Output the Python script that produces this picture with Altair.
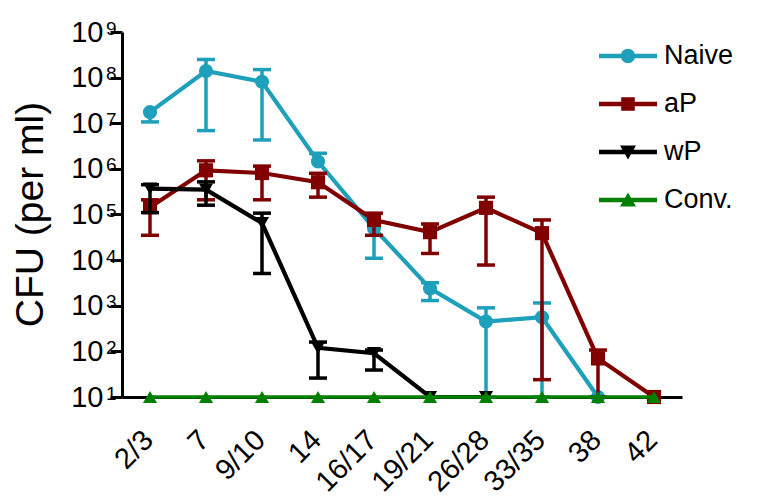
import altair as alt
import pandas as pd

categories = ["2/3", "7", "9/10", "14", "16/17", "19/21", "26/28", "33/35", "38", "42"]

series_names = ["Naive", "aP", "wP", "Conv."]
colors = ["#1E9FBA", "#800000", "#000000", "#008000"]
shapes = ["circle", "square", "triangle-down", "triangle-up"]

naive = [1.75e7, 1.4e8, 8.1e7, 1.45e6, 5.0e4, 2.4e3, 450, 560, 10, None]
naive_hi = [None, 2.5e8, 1.5e8, 2.2e6, None, 3.2e3, 900, 1150, None, None]
naive_lo = [1.07e7, 6.9e6, 4.3e6, None, 1.1e4, 1.3e3, 10, 10, None, None]

ap = [1.45e5, 9.3e5, 8.1e5, 5.1e5, 7.6e4, 4.1e4, 1.4e5, 3.9e4, 70, 10]
ap_hi = [2.1e5, 1.5e6, 1.15e6, 8.0e5, 1.07e5, 6.2e4, 2.4e5, 7.6e4, 107, None]
ap_lo = [3.5e4, 2.1e5, 2.1e5, 2.4e5, 3.5e4, 1.4e4, 7.8e3, 24, 10, None]

wp = [3.7e5, 3.5e5, 6.5e4, 120, 91, 10, 10, None, None, None]
wp_hi = [4.5e5, 5.2e5, 1.07e5, 160, 107, None, None, None, None, None]
wp_lo = [1.1e5, 1.6e5, 5.1e3, 26, 39, None, None, None, None, None]

conv = [10, 10, 10, 10, 10, 10, 10, 10, 10, 10]
conv_hi = [None] * 10
conv_lo = [None] * 10

y_ticks = [10, 100, 1e3, 1e4, 1e5, 1e6, 1e7, 1e8, 1e9]

FONT = "Liberation Sans"

BAR = "M-1.45,-0.11H1.45V0.11H-1.45Z"
legend_paths = [
    BAR + "M-0.36,0A0.36,0.36,0,1,1,0.36,0A0.36,0.36,0,1,1,-0.36,0Z",
    BAR + "M-0.34,-0.34H0.34V0.34H-0.34Z",
    BAR + "M-0.4,-0.33H0.4L0,0.37Z",
    BAR + "M0.4,0.33H-0.4L0,-0.37Z",
]


def series_frame(name, vals, his, los):
    rows = []
    caps = []
    for c, v, h, l in zip(categories, vals, his, los):
        if v is None:
            continue
        rows.append({"series": name, "cat": c, "value": v,
                     "hi": v if h is None else h, "lo": v if l is None else l})
        if h is not None:
            caps.append({"series": name, "cat": c, "cap": h})
        if l is not None:
            caps.append({"series": name, "cat": c, "cap": l})
    return pd.DataFrame(rows), pd.DataFrame(caps)


x_scale = alt.Scale(type="point", domain=categories, padding=0.5)
y_scale = alt.Scale(type="log", domain=[10, 1e9])

x_axis = alt.Axis(
    title=None, labelAngle=315, labelAlign="right", labelBaseline="middle",
    labelFont=FONT, labelFontSize=29, labelColor="black", labelPadding=33,
    labelOffset=-2, tickSize=5, tickWidth=3, tickColor="black",
    domainWidth=3, domainColor="black", grid=False,
)
y_axis = alt.Axis(
    values=y_ticks, grid=False, orient="left",
    labelExpr="'10'",
    labelFont=FONT, labelFontSize=29, labelColor="black", labelPadding=7,
    labelAlign="right", labelBaseline="middle",
    tickSize=12, tickWidth=3, tickColor="black", domainWidth=3, domainColor="black",
    title="CFU (per ml)", titleFont=FONT, titleFontSize=39, titleFontWeight="normal",
    titleColor="black", titleAngle=270, titleX=-92, titleY=182,
    titleAlign="center", titleBaseline="middle",
)
exp_axis = alt.Axis(
    values=y_ticks, grid=False, orient="left", domain=False,
    labelExpr="'' + round(log(datum.value)/LN10)",
    labelFont=FONT, labelFontSize=19, labelColor="black", labelPadding=6,
    labelAlign="right", labelBaseline="middle", labelOffset=-4,
    ticks=True, tickSize=0, tickOpacity=0, title=None,
)

X = alt.X("cat:N", scale=x_scale, axis=x_axis, sort=categories)

layers = []
all_series = [
    ("Naive", naive, naive_hi, naive_lo),
    ("aP", ap, ap_hi, ap_lo),
    ("wP", wp, wp_hi, wp_lo),
    ("Conv.", conv, conv_hi, conv_lo),
]
for i, (name, vals, his, los) in enumerate(all_series):
    df, caps = series_frame(name, vals, his, los)
    col = colors[i]
    if len(caps):
        layers.append(
            alt.Chart(df).mark_rule(color=col, strokeWidth=3.5).encode(
                x=X,
                y=alt.Y("lo:Q", scale=y_scale, axis=y_axis),
                y2="hi:Q",
            )
        )
        layers.append(
            alt.Chart(caps).mark_tick(color=col, thickness=3.5, size=18, opacity=1).encode(
                x=X,
                y=alt.Y("cap:Q", scale=y_scale, axis=y_axis),
            )
        )
    layers.append(
        alt.Chart(df).mark_line(color=col, strokeWidth=4.2 if name != "Conv." else 3.5).encode(
            x=X, y=alt.Y("value:Q", scale=y_scale, axis=y_axis)
        )
    )
    layers.append(
        alt.Chart(df).mark_point(filled=True, shape=shapes[i], size=200, color=col, opacity=1).encode(
            x=X, y=alt.Y("value:Q", scale=y_scale, axis=y_axis)
        )
    )

legend = alt.Legend(
    title=None, orient="none", legendX=486, legendY=4, padding=0,
    symbolSize=1600, symbolStrokeWidth=0, rowPadding=15, labelOffset=16,
    labelFont=FONT, labelFontSize=27, labelColor="black", labelLimit=300,
    symbolOpacity=1,
)
legend_df = pd.DataFrame({"series": series_names})
legend_layer = alt.Chart(legend_df).mark_point(filled=True, opacity=1, size=1600).encode(
    shape=alt.Shape("series:N", scale=alt.Scale(domain=series_names, range=legend_paths), legend=legend),
    color=alt.Color("series:N", scale=alt.Scale(domain=series_names, range=colors), legend=legend),
).transform_filter("false")
layers.append(legend_layer)

main = alt.layer(*layers)

tick_df = pd.DataFrame({"t": y_ticks})
exp_layer = alt.Chart(tick_df).mark_rule(opacity=0).encode(
    y=alt.Y("t:Q", scale=y_scale, axis=exp_axis)
)

chart = alt.layer(main, exp_layer).resolve_axis(y="independent").properties(
    width=560, height=365,
    autosize=alt.AutoSizeParams(type="none"),
    padding={"left": 122, "top": 32, "right": 94, "bottom": 103},
    background="white",
).configure_view(strokeWidth=0)

chart.save("out.html", embed_options={"renderer": "svg", "actions": False})
